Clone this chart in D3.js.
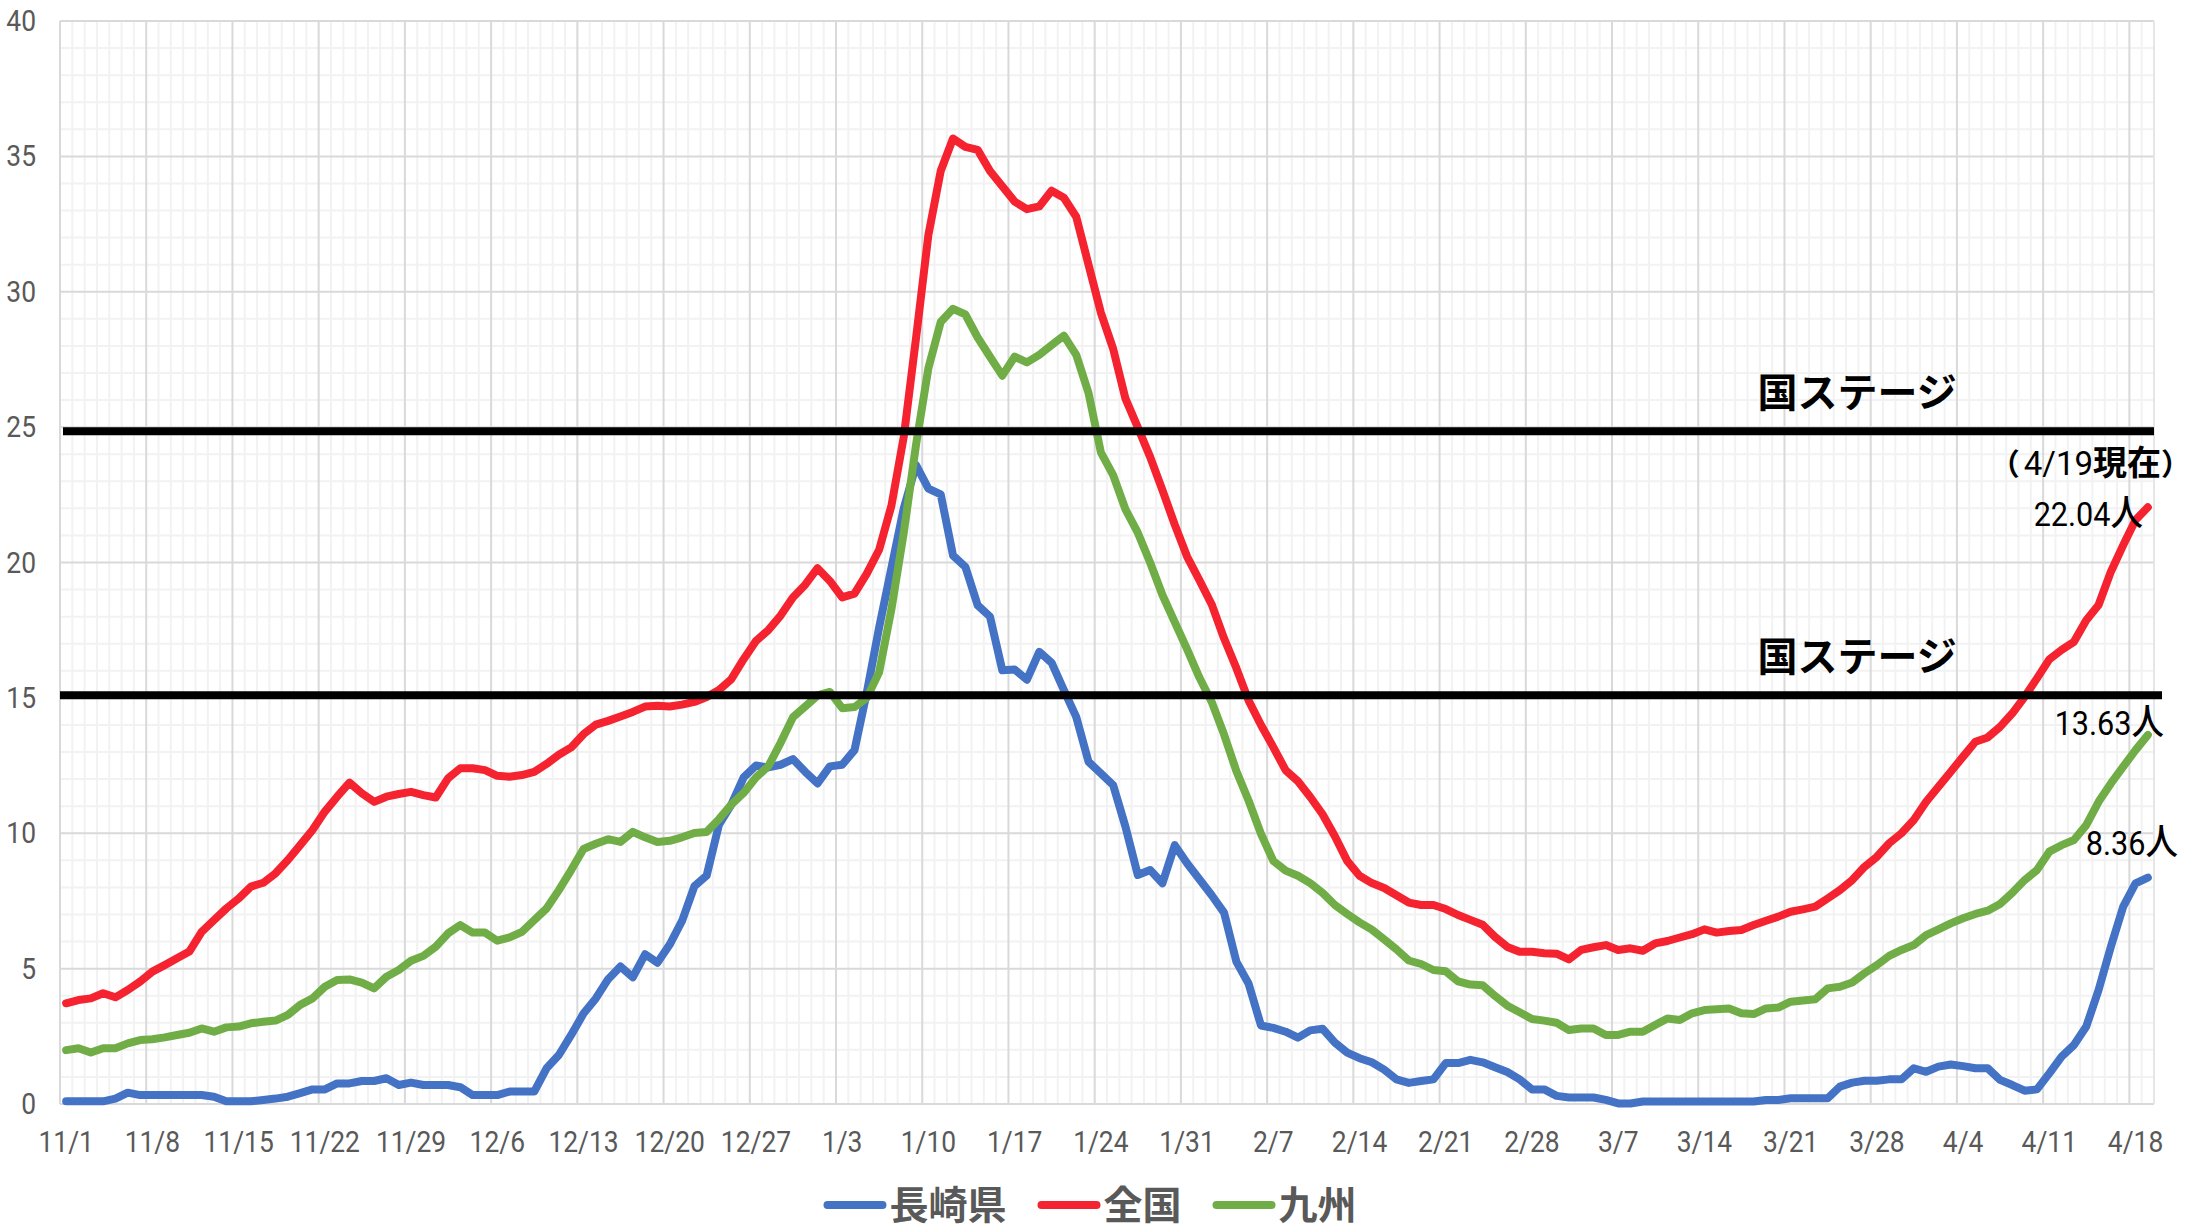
<!DOCTYPE html>
<html>
<head>
<meta charset="utf-8">
<script src="https://cdn.jsdelivr.net/npm/d3@7"></script>
<style>
  body { margin: 0; background: #fff; }
  svg { display: block; }
</style>
</head>
<body>
<svg id="chart" width="2192" height="1230"></svg>
<script>
// daily values from 11/1 to 4/19 (170 days)
var startDay = new Date(2021, 10, 1)
var endDay = new Date(2022, 3, 20)

var nagasaki = [
  0.1, 0.1, 0.1, 0.1, 0.2, 0.42, 0.33, 0.33, 0.33, 0.33,
  0.33, 0.33, 0.27, 0.1, 0.1, 0.1, 0.15, 0.2, 0.27, 0.4,
  0.54, 0.54, 0.76, 0.76, 0.85, 0.85, 0.95, 0.7, 0.79, 0.7,
  0.7, 0.7, 0.62, 0.33, 0.33, 0.33, 0.46, 0.46, 0.46, 1.32,
  1.81, 2.55, 3.34, 3.9, 4.61, 5.08, 4.68, 5.53, 5.22, 5.89,
  6.76, 8.04, 8.44, 10.32, 11.06, 12.06, 12.5, 12.43, 12.53, 12.74,
  12.27, 11.84, 12.47, 12.53, 13.07, 15.2, 17.6, 19.8, 22.0, 23.6,
  22.73, 22.52, 20.26, 19.84, 18.42, 18.0, 16.02, 16.05, 15.67, 16.7,
  16.3, 15.29, 14.3, 12.64, 12.21, 11.78, 10.24, 8.46, 8.64, 8.15,
  9.56, 8.89, 8.3, 7.71, 7.07, 5.26, 4.44, 2.9, 2.81, 2.67,
  2.45, 2.72, 2.78, 2.27, 1.9, 1.69, 1.54, 1.27, 0.91, 0.78,
  0.85, 0.91, 1.51, 1.51, 1.63, 1.54, 1.36, 1.18, 0.91, 0.54,
  0.54, 0.3, 0.24, 0.24, 0.24, 0.15, 0.02, 0.02, 0.09, 0.09,
  0.09, 0.09, 0.09, 0.09, 0.09, 0.09, 0.09, 0.09, 0.15, 0.15,
  0.21, 0.21, 0.21, 0.21, 0.64, 0.79, 0.86, 0.86, 0.91, 0.91,
  1.32, 1.19, 1.38, 1.46, 1.4, 1.32, 1.32, 0.89, 0.7, 0.49,
  0.54, 1.13, 1.75, 2.18, 2.86, 4.21, 5.81, 7.29, 8.15, 8.36
]

var zenkoku = [
  3.72, 3.84, 3.9, 4.09, 3.94, 4.21, 4.52, 4.89, 5.13, 5.38,
  5.63, 6.36, 6.79, 7.22, 7.59, 8.03, 8.17, 8.52, 9.01, 9.56,
  10.12, 10.8, 11.35, 11.87, 11.48, 11.16, 11.35, 11.45, 11.53, 11.41,
  11.32, 12.03, 12.4, 12.4, 12.33, 12.12, 12.09, 12.15, 12.27, 12.56,
  12.9, 13.17, 13.66, 14.01, 14.15, 14.31, 14.48, 14.68, 14.71, 14.68,
  14.75, 14.85, 15.03, 15.29, 15.69, 16.43, 17.1, 17.5, 18.04, 18.71,
  19.18, 19.79, 19.32, 18.71, 18.85, 19.59, 20.47, 22.1, 24.64, 28.3,
  32.1, 34.46, 35.66, 35.35, 35.24, 34.46, 33.9, 33.33, 33.05, 33.15,
  33.73, 33.47, 32.77, 31.0, 29.23, 27.89, 26.05, 24.99, 23.9, 22.67,
  21.4, 20.22, 19.35, 18.45, 17.2, 16.1, 14.9, 14.0, 13.18, 12.33,
  11.92, 11.34, 10.7, 9.89, 8.98, 8.43, 8.16, 7.98, 7.71, 7.44,
  7.35, 7.35, 7.2, 6.98, 6.8, 6.62, 6.17, 5.8, 5.62, 5.62,
  5.57, 5.55, 5.34, 5.69, 5.79, 5.87, 5.69, 5.75, 5.66, 5.93,
  6.02, 6.15, 6.27, 6.45, 6.33, 6.39, 6.43, 6.61, 6.77, 6.92,
  7.1, 7.19, 7.29, 7.59, 7.9, 8.27, 8.76, 9.13, 9.63, 10.0,
  10.49, 11.16, 11.72, 12.27, 12.83, 13.38, 13.54, 13.93, 14.43, 15.04,
  15.72, 16.42, 16.77, 17.07, 17.87, 18.43, 19.66, 20.64, 21.57, 22.04
]

var kyushu = [
  1.99, 2.06, 1.9, 2.06, 2.06, 2.24, 2.36, 2.39, 2.46, 2.55,
  2.63, 2.79, 2.67, 2.83, 2.86, 2.98, 3.04, 3.08, 3.29, 3.66,
  3.9, 4.33, 4.58, 4.6, 4.48, 4.27, 4.7, 4.95, 5.29, 5.47,
  5.81, 6.3, 6.61, 6.33, 6.33, 6.03, 6.15, 6.36, 6.79, 7.22,
  7.9, 8.64, 9.42, 9.61, 9.78, 9.68, 10.05, 9.85, 9.68, 9.72,
  9.85, 10.01, 10.05, 10.52, 11.06, 11.49, 12.06, 12.47, 13.34, 14.28,
  14.68, 15.09, 15.22, 14.62, 14.66, 15.0, 15.95, 18.28, 21.1, 24.36,
  27.18, 28.88, 29.37, 29.16, 28.31, 27.6, 26.9, 27.6, 27.39, 27.67,
  28.03, 28.38, 27.67, 26.26, 24.07, 23.23, 21.96, 21.1, 20.0, 18.8,
  17.8, 16.8, 15.75, 14.85, 13.65, 12.3, 11.2, 9.98, 8.98, 8.62,
  8.43, 8.16, 7.8, 7.35, 7.02, 6.71, 6.44, 6.08, 5.71, 5.3,
  5.17, 4.95, 4.9, 4.53, 4.41, 4.39, 3.99, 3.63, 3.39, 3.14,
  3.08, 3.0, 2.73, 2.79, 2.79, 2.55, 2.55, 2.67, 2.67, 2.92,
  3.16, 3.1, 3.35, 3.47, 3.5, 3.53, 3.35, 3.32, 3.53, 3.56,
  3.78, 3.82, 3.87, 4.27, 4.33, 4.49, 4.83, 5.13, 5.47, 5.69,
  5.87, 6.24, 6.45, 6.67, 6.86, 7.02, 7.14, 7.39, 7.8, 8.27,
  8.64, 9.32, 9.56, 9.75, 10.3, 11.16, 11.84, 12.46, 13.07, 13.63
]

var tickLabels = ['11/1', '11/8', '11/15', '11/22', '11/29', '12/6', '12/13', '12/20', '12/27',
  '1/3', '1/10', '1/17', '1/24', '1/31', '2/7', '2/14', '2/21', '2/28', '3/7', '3/14',
  '3/21', '3/28', '4/4', '4/11', '4/18']
var yTicks = [0, 5, 10, 15, 20, 25, 30, 35, 40]

var seriesNames = ['長崎県', '全国', '九州']
var seriesColors = ['#4472C4', '#F5222F', '#70AD47']

// the two stage lines drawn over the chart, and the label sitting above each
var stageLevels = [24.85, 15.1]
var stageLabel = '国ステージ'
var stageLabelDay = '3/18'
var latestNote = ['（', '4/19', '現在', '）']
var latestValues = ['8.36', '22.04', '13.63']

var fmt = d3.timeFormat('%-m/%-d')
var days = d3.timeDay.range(startDay, endDay).map(fmt)

var svg = d3.select('#chart')
var margin = { left: 60, right: 38, top: 21, bottom: 126 }
var width = 2192 - margin.left - margin.right
var height = 1230 - margin.top - margin.bottom

var x = d3.scaleBand().domain(days).range([0, width]).padding(0)
var y = d3.scaleLinear().domain([0, 40]).range([height, 0])
var cx = function (d) { return x(d) + x.bandwidth() / 2 }

var g = svg.append('g').attr('transform', 'translate(' + margin.left + ',' + margin.top + ')')

// minor grid (every day / every 1)
var grid = g.append('g').attr('class', 'grid')
var bounds = d3.range(days.length + 1)
grid.selectAll('.vminor').data(bounds.filter(function (i) { return i % 7 !== 0 }))
  .enter().append('line')
  .attr('x1', function (i) { return i * x.bandwidth() })
  .attr('x2', function (i) { return i * x.bandwidth() })
  .attr('y1', 0).attr('y2', height)
  .attr('stroke', '#F2F2F2').attr('stroke-width', 2)
grid.selectAll('.hminor').data(d3.range(0, 41).filter(function (v) { return v % 5 !== 0 }))
  .enter().append('line')
  .attr('x1', 0).attr('x2', width)
  .attr('y1', function (v) { return y(v) }).attr('y2', function (v) { return y(v) })
  .attr('stroke', '#F2F2F2').attr('stroke-width', 2)
// major grid (every week / every 5)
grid.selectAll('.vmajor').data(bounds.filter(function (i) { return i % 7 === 0 }))
  .enter().append('line')
  .attr('x1', function (i) { return i * x.bandwidth() })
  .attr('x2', function (i) { return i * x.bandwidth() })
  .attr('y1', 0).attr('y2', height)
  .attr('stroke', '#D9D9D9').attr('stroke-width', 2)
grid.selectAll('.hmajor').data(yTicks)
  .enter().append('line')
  .attr('x1', 0).attr('x2', width)
  .attr('y1', function (v) { return y(v) }).attr('y2', function (v) { return y(v) })
  .attr('stroke', '#D9D9D9').attr('stroke-width', 2)
grid.append('line').attr('x1', width).attr('x2', width).attr('y1', 0).attr('y2', height)
  .attr('stroke', '#E6E6E6').attr('stroke-width', 2)

// axes - the source font is a narrow one, so squeeze the labels a little
var xAxis = g.append('g').attr('transform', 'translate(0,' + height + ')')
  .call(d3.axisBottom(x).tickValues(tickLabels).tickSize(0).tickPadding(27))
xAxis.select('.domain').remove()
xAxis.selectAll('.tick text').attr('transform', 'scale(0.88,1)')
var yAxis = g.append('g').call(d3.axisLeft(y).tickValues(yTicks).tickSize(0).tickPadding(25))
yAxis.select('.domain').remove()
yAxis.selectAll('.tick text').attr('x', 0).attr('transform', 'translate(-24,0) scale(0.88,1)')
svg.selectAll('.tick text')
  .attr('font-family', 'Roboto, "Noto Sans", sans-serif')
  .attr('font-size', 30)
  .attr('fill', '#595959')

// series
var series = [nagasaki, zenkoku, kyushu]
var line = d3.line()
  .x(function (d, i) { return cx(days[i]) })
  .y(function (d) { return y(d) })
g.append('g').selectAll('path').data(series).enter().append('path')
  .attr('d', function (d) { return line(d) })
  .attr('fill', 'none')
  .attr('stroke', function (d, i) { return seriesColors[i] })
  .attr('stroke-width', 8)
  .attr('stroke-linejoin', 'round')
  .attr('stroke-linecap', 'round')

// stage lines
var stageExt = [[3, width], [0, width + 8]]
g.append('g').selectAll('line').data(stageLevels).enter().append('line')
  .attr('x1', function (d, i) { return stageExt[i][0] })
  .attr('x2', function (d, i) { return stageExt[i][1] })
  .attr('y1', function (d) { return y(d) })
  .attr('y2', function (d) { return y(d) })
  .attr('stroke', '#000').attr('stroke-width', 8)
g.append('g').selectAll('text').data(stageLevels).enter().append('text')
  .attr('x', x(stageLabelDay) + 10)
  .attr('y', function (d) { return y(d) - 24 })
  .attr('font-family', '"Noto Sans CJK JP", sans-serif')
  .attr('font-weight', 700)
  .attr('font-size', 40)
  .attr('fill', '#000')
  .text(stageLabel)

// latest values next to the last point
var last = days.length - 1
var lastX = cx(days[last])
var note = g.append('text')
  .attr('x', lastX - 158)
  .attr('y', y(zenkoku[last]) - 32)
  .attr('font-family', '"Noto Sans CJK JP", sans-serif')
  .attr('font-size', 34)
  .attr('fill', '#000')
note.append('tspan').attr('font-weight', 700).attr('font-size', 30).text(latestNote[0])
note.append('tspan').attr('font-family', 'Roboto, sans-serif').attr('font-size', 33).attr('dx', 4).text(latestNote[1])
note.append('tspan').attr('font-weight', 700).text(latestNote[2])
note.append('tspan').attr('font-weight', 700).attr('font-size', 30).text(latestNote[3])

var valueOffsets = [[30, -23], [-5, 19], [16, 0]]
series.forEach(function (s, i) {
  var t = g.append('text')
    .attr('transform', 'translate(' + (lastX + valueOffsets[i][0]) + ',' + (y(s[last]) + valueOffsets[i][1]) + ') scale(0.9,1)')
    .attr('text-anchor', 'end')
    .attr('font-size', 34)
    .attr('fill', '#000')
  t.append('tspan').attr('font-family', 'Roboto, sans-serif').text(latestValues[i])
  t.append('tspan').attr('font-family', '"Noto Sans CJK JP", sans-serif').attr('font-weight', 500).attr('font-size', 36).text('人')
})

// legend
var legend = svg.append('g')
var items = legend.selectAll('g').data(seriesNames).enter().append('g')
items.append('line')
  .attr('x1', 4).attr('x2', 59).attr('y1', 0).attr('y2', 0)
  .attr('stroke', function (d, i) { return seriesColors[i] })
  .attr('stroke-width', 8).attr('stroke-linecap', 'round')
items.append('text')
  .attr('x', 66).attr('y', 0).attr('dy', '0.36em')
  .attr('font-family', '"Noto Sans CJK JP", sans-serif')
  .attr('font-weight', 700).attr('font-size', 39)
  .attr('fill', '#595959')
  .text(function (d) { return d })
var pos = 0
var widths = []
items.each(function () {
  var w = 66 + d3.select(this).select('text').node().getComputedTextLength()
  widths.push(w)
})
var total = d3.sum(widths) + 31 * (widths.length - 1)
var lx = 1090 - total / 2
items.attr('transform', function (d, i) {
  var t = 'translate(' + (lx + pos) + ',1205)'
  pos += widths[i] + 31
  return t
})
</script>
</body>
</html>
